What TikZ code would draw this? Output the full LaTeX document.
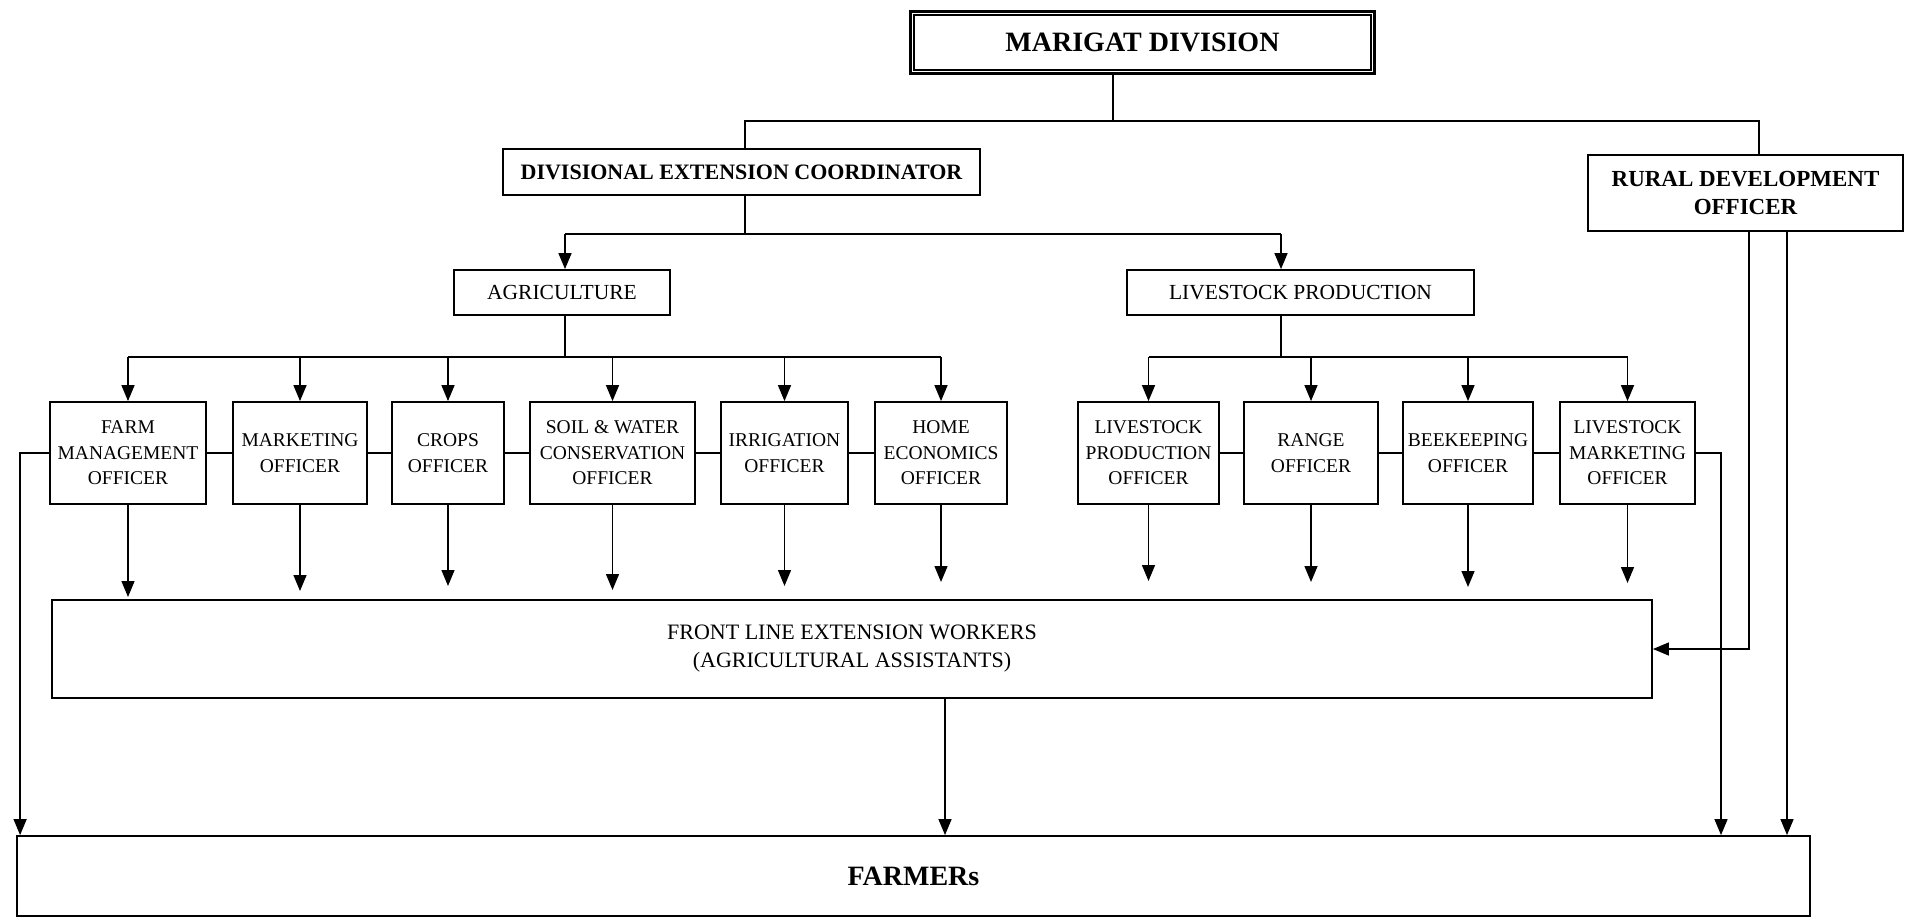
\documentclass[tikz,border=0pt]{standalone}
\usepackage{fontspec}
\setmainfont{Liberation Serif}
\usetikzlibrary{arrows.meta}
\begin{document}
\begin{tikzpicture}[x=1pt,y=-1pt,
  box/.style={draw, line width=1.8pt, rectangle, inner sep=0pt, align=center},
  head/.style={box, font=\bfseries\fontsize{22}{28}\selectfont},
  unit/.style={box, minimum height=45pt, font=\fontsize{21.5}{26}\selectfont},
  officer/.style={box, minimum height=102pt, font=\fontsize{19.5}{25.5}\selectfont},
  link/.style={line width=1.4pt},
  arr/.style={link, -{Triangle[length=16pt,width=13pt]}},
]
\useasboundingbox (0,0) rectangle (1910,921);

% top of the hierarchy, framed by a heavy outer and a thin inner rule
\node[box, line width=3pt, minimum width=464pt, minimum height=62pt,
      font=\bfseries\fontsize{28}{32}\selectfont] (mar) at (1142.5,42.5) {MARIGAT DIVISION};
\draw[line width=1.2pt] ([xshift=5pt,yshift=-5pt]mar.north west) rectangle ([xshift=-5pt,yshift=5pt]mar.south east);
\node[head, minimum width=477pt, minimum height=46pt] (dec) at (741.5,172) {DIVISIONAL EXTENSION COORDINATOR};
\node[head, minimum width=315pt, minimum height=76pt, font=\bfseries\fontsize{23}{28}\selectfont] (rdo) at (1745.5,193) {RURAL DEVELOPMENT\\OFFICER};

% sections
\node[unit, minimum width=216pt] (agr) at (562,292.5) {AGRICULTURE};
\node[unit, minimum width=347pt] (lp) at (1300.5,292.5) {LIVESTOCK PRODUCTION};

% subject matter officers
\node[officer, minimum width=156pt] (farm) at (128,453) {FARM\\MANAGEMENT\\OFFICER};
\node[officer, minimum width=134pt] (mkt) at (300,453) {MARKETING\\OFFICER};
\node[officer, minimum width=112pt] (crops) at (448,453) {CROPS\\OFFICER};
\node[officer, minimum width=165pt] (soil) at (612.5,453) {SOIL \& WATER\\CONSERVATION\\OFFICER};
\node[officer, minimum width=127pt] (irr) at (784.5,453) {IRRIGATION\\OFFICER};
\node[officer, minimum width=132pt] (home) at (941,453) {HOME\\ECONOMICS\\OFFICER};
\node[officer, minimum width=141pt] (lpo) at (1148.5,453) {LIVESTOCK\\PRODUCTION\\OFFICER};
\node[officer, minimum width=134pt] (range) at (1311,453) {RANGE\\OFFICER};
\node[officer, minimum width=130pt] (bee) at (1468,453) {BEEKEEPING\\OFFICER};
\node[officer, minimum width=135pt] (lmo) at (1627.5,453) {LIVESTOCK\\MARKETING\\OFFICER};

% field level
\node[box, minimum width=1600pt, minimum height=98pt, font=\fontsize{22}{28}\selectfont] (flew) at (852,649)
  {FRONT LINE EXTENSION WORKERS\\(AGRICULTURAL ASSISTANTS)};
\node[box, minimum width=1793pt, minimum height=80pt, font=\bfseries\fontsize{28}{32}\selectfont] (farmers) at (913.5,876) {FARMERs};

% junction points and line positions
\coordinate (bus0) at (1113,121);
\coordinate (rtop) at (1759,0);
\coordinate (bus1) at (745,234);
\coordinate (agrin) at (565,0);
\coordinate (lpin) at (1281,0);
\coordinate (agbus) at (565,357);
\coordinate (lpbus) at (1281,357);
\coordinate (rdA) at (1749,0);
\coordinate (rdB) at (1787,0);
\coordinate (lmx) at (1721,0);
\coordinate (fx) at (945,0);

% division to coordinator and rural development officer
\draw[link] (bus0 |- mar.south) -- (bus0);
\draw[link] (bus1 |- dec.north) |- (bus0) -| (rtop |- rdo.north);

% coordinator to sections
\draw[link] (bus1 |- dec.south) -- (bus1);
\draw[link] (agrin |- bus1) -- (lpin |- bus1);
\draw[arr] (agrin |- bus1) -- (agrin |- agr.north);
\draw[arr] (lpin |- bus1) -- (lpin |- lp.north);

% sections to officers
\draw[link] (agbus |- agr.south) -- (agbus);
\draw[link] (farm.north |- agbus) -- (home.north |- agbus);
\foreach \n in {farm,mkt,crops,soil,irr,home}
  \draw[arr] (\n.north |- agbus) -- (\n.north);
\draw[link] (lpbus |- lp.south) -- (lpbus);
\draw[link] (lpo.north |- lpbus) -- (lmo.north |- lpbus);
\foreach \n in {lpo,range,bee,lmo}
  \draw[arr] (\n.north |- lpbus) -- (\n.north);

% links between neighbouring officers
\foreach \a/\b in {farm/mkt,mkt/crops,crops/soil,soil/irr,irr/home,lpo/range,range/bee,bee/lmo}
  \draw[link] (\a.east) -- (\b.west);

% officers towards the front line workers
\foreach \n/\e in {farm/597,mkt/591,crops/586,soil/590,irr/586,home/582,lpo/581,range/582,bee/587,lmo/583}
  \draw[arr] (\n.south) -- (\n.south |- 0,\e);

% direct lines to farmers
\draw[arr] (farm.west) -| ([xshift=4pt]farmers.north west);
\draw[arr] (lmo.east) -| (lmx |- farmers.north);
\draw[arr] (rdA |- rdo.south) |- (flew.east);
\draw[arr] (rdB |- rdo.south) -- (rdB |- farmers.north);
\draw[arr] (fx |- flew.south) -- (fx |- farmers.north);
\end{tikzpicture}
\end{document}
